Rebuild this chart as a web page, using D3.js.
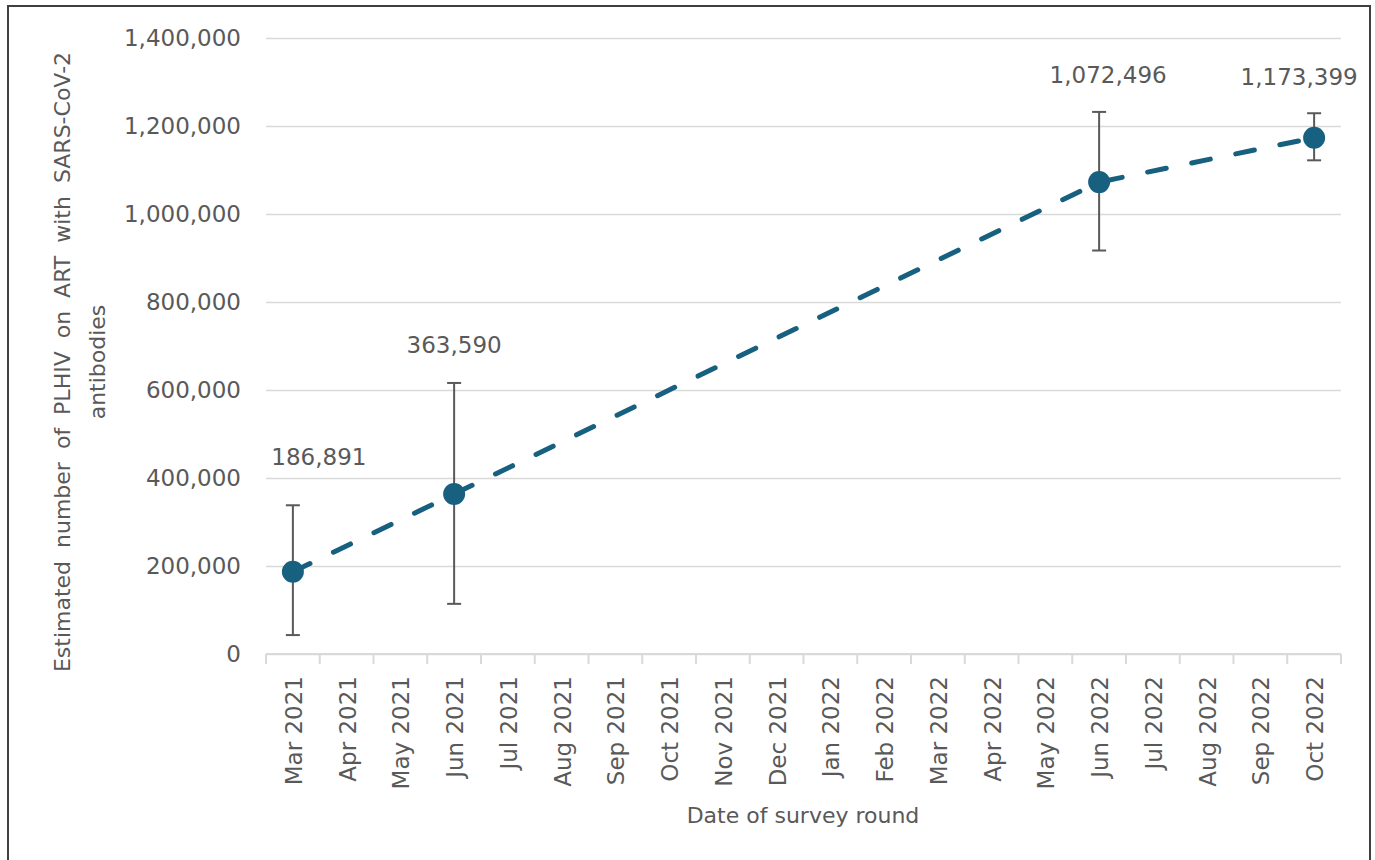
<!DOCTYPE html>
<html>
<head>
<meta charset="utf-8">
<script src="https://cdn.jsdelivr.net/npm/d3@7"></script>
<style>
  body { margin: 0; background: #fff; }
  text { font-family: "DejaVu Sans", sans-serif; fill: #595959; }
</style>
</head>
<body>
<div id="chart"></div>
<script>
// months on the x axis
const months = ["Mar 2021", "Apr 2021", "May 2021", "Jun 2021", "Jul 2021", "Aug 2021",
    "Sep 2021", "Oct 2021", "Nov 2021", "Dec 2021", "Jan 2022", "Feb 2022", "Mar 2022",
    "Apr 2022", "May 2022", "Jun 2022", "Jul 2022", "Aug 2022", "Sep 2022", "Oct 2022"];

// survey rounds
const rounds = ["Mar 2021", "Jun 2021", "Jun 2022", "Oct 2022"];
const estimates = [186891, 363590, 1072496, 1173399];
const lower = [43000, 114000, 917000, 1122000];
const upper = [338000, 616000, 1232000, 1229000];

const yTicks = [0, 200000, 400000, 600000, 800000, 1000000, 1200000, 1400000];

const width = 1375, height = 860;
const margin = { top: 38, left: 266, right: 34, bottom: 206 };
const innerW = 1341 - margin.left;
const innerH = 654 - margin.top;

const svg = d3.select("#chart").append("svg")
    .attr("width", width)
    .attr("height", height);

// outer frame
svg.append("rect")
    .attr("x", 8).attr("y", 6)
    .attr("width", 1362).attr("height", 900)
    .attr("fill", "none")
    .attr("stroke", "#404040")
    .attr("stroke-width", 2);

const g = svg.append("g")
    .attr("transform", "translate(" + margin.left + "," + margin.top + ")");

const x = d3.scaleBand().domain(months).range([0, innerW]);
const y = d3.scaleLinear().domain([0, 1400000]).range([innerH, 0]);

// gridlines
g.append("g")
    .call(d3.axisLeft(y).tickValues(yTicks).tickSize(-innerW).tickFormat(""))
    .call(s => s.select(".domain").remove())
    .call(s => s.selectAll("line").attr("stroke", "#d9d9d9").attr("stroke-width", 1.5));

// y tick labels
g.append("g")
    .call(d3.axisLeft(y).tickValues(yTicks).tickSize(0).tickPadding(25)
        .tickFormat(d3.format(",")))
    .call(s => s.select(".domain").remove())
    .call(s => s.selectAll("text").attr("font-size", 23).attr("fill", "#595959"));

// x axis with ticks at category boundaries
const xAxis = g.append("g").attr("transform", "translate(0," + innerH + ")");
xAxis.append("line")
    .attr("x1", 0).attr("x2", innerW)
    .attr("stroke", "#d9d9d9").attr("stroke-width", 2);
xAxis.selectAll(".tk")
    .data(months.concat(["end"]))
    .enter().append("line")
    .attr("x1", (d, i) => i * x.step())
    .attr("x2", (d, i) => i * x.step())
    .attr("y1", 0).attr("y2", 10)
    .attr("stroke", "#d9d9d9").attr("stroke-width", 2);
xAxis.selectAll(".lbl")
    .data(months)
    .enter().append("text")
    .attr("transform", d => "translate(" + (x(d) + x.bandwidth() / 2 + 9) + ",22) rotate(-90)")
    .attr("text-anchor", "end")
    .attr("font-size", 23)
    .text(d => d);

// dashed line between rounds
const pts = rounds.map((r, i) => [x(r) + x.bandwidth() / 2, y(estimates[i])]);
g.append("path")
    .datum(pts)
    .attr("d", d3.line())
    .attr("fill", "none")
    .attr("stroke", "#18607f")
    .attr("stroke-width", 5)
    .attr("stroke-linecap", "round")
    .attr("stroke-dasharray", "19,26");

// error bars
const eb = g.append("g").attr("stroke", "#595959").attr("stroke-width", 2);
rounds.forEach((r, i) => {
    const cx = x(r) + x.bandwidth() / 2;
    eb.append("line").attr("x1", cx).attr("x2", cx).attr("y1", y(lower[i])).attr("y2", y(upper[i]));
    eb.append("line").attr("x1", cx - 7).attr("x2", cx + 7).attr("y1", y(lower[i])).attr("y2", y(lower[i]));
    eb.append("line").attr("x1", cx - 7).attr("x2", cx + 7).attr("y1", y(upper[i])).attr("y2", y(upper[i]));
});

// points
g.selectAll(".pt")
    .data(rounds)
    .enter().append("circle")
    .attr("cx", d => x(d) + x.bandwidth() / 2)
    .attr("cy", (d, i) => y(estimates[i]))
    .attr("r", 11)
    .attr("fill", "#18607f");

// data labels (moved by hand in the original)
const labelDx = [26, 0, 9, -15];
const labelDy = [-48, -38, -37, -36];
g.selectAll(".dl")
    .data(rounds)
    .enter().append("text")
    .attr("x", (d, i) => x(d) + x.bandwidth() / 2 + labelDx[i])
    .attr("y", (d, i) => y(upper[i]) + labelDy[i])
    .attr("dy", "0.35em")
    .attr("text-anchor", "middle")
    .attr("font-size", 23)
    .text((d, i) => d3.format(",")(estimates[i]));

// axis titles
svg.append("text")
    .attr("transform", "translate(62,362) rotate(-90)")
    .attr("text-anchor", "middle")
    .attr("dy", "0.35em")
    .attr("font-size", 22)
    .attr("word-spacing", 6)
    .text("Estimated number of PLHIV on ART with SARS-CoV-2");
svg.append("text")
    .attr("transform", "translate(97,362) rotate(-90)")
    .attr("text-anchor", "middle")
    .attr("dy", "0.35em")
    .attr("font-size", 22)
    .text("antibodies");

svg.append("text")
    .attr("x", 803).attr("y", 815)
    .attr("text-anchor", "middle")
    .attr("dy", "0.35em")
    .attr("font-size", 22)
    .text("Date of survey round");
</script>
</body>
</html>
